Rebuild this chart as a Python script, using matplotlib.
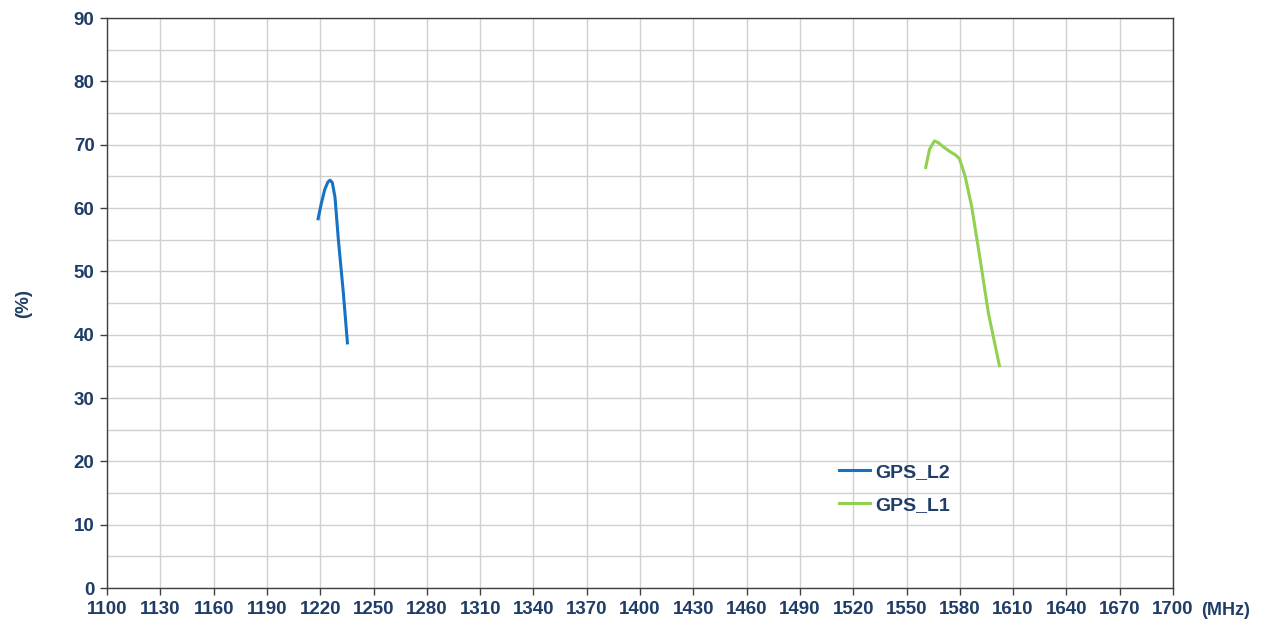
import numpy as np
import matplotlib
matplotlib.use("Agg")
import matplotlib.pyplot as plt
from matplotlib.ticker import MultipleLocator, FixedLocator

plt.rcParams['font.family'] = ['Liberation Sans', 'DejaVu Sans']

# efficiency data
l2_freq = [1218.8, 1220.5, 1222.5, 1224.3, 1225.5, 1226.8, 1228.3, 1230.2, 1233.0, 1235.3]
l2_eff = [58.3, 60.6, 62.9, 64.1, 64.4, 64.0, 61.7, 55.0, 46.6, 38.7]
l1_freq = [1560.8, 1563.0, 1565.7, 1568.0, 1571.0, 1574.5, 1577.5, 1579.8, 1583.0,
           1586.7, 1591.5, 1596.1, 1602.3]
l1_eff = [66.4, 69.3, 70.6, 70.3, 69.6, 68.9, 68.4, 67.8, 65.0, 60.2, 51.8, 43.4, 35.1]
x_ticks = list(range(1100, 1701, 30))

txt_col = '#1f3d66'

fig = plt.figure(figsize=(12.67, 6.26), dpi=100)
ax = fig.add_axes([0.0845, 0.0607, 0.8413, 0.9105])

ax.plot(l2_freq, l2_eff, color='#1672c4', linewidth=2.2, label='GPS_L2')
ax.plot(l1_freq, l1_eff, color='#92d050', linewidth=2.2, label='GPS_L1')

ax.set_xlim(1100, 1700)
ax.set_ylim(0, 90)
ax.xaxis.set_major_locator(FixedLocator(x_ticks))
ax.yaxis.set_major_locator(MultipleLocator(10))
ax.yaxis.set_minor_locator(MultipleLocator(5))
ax.grid(True, which='both', axis='y', color='#d0d0d0', linewidth=1)
ax.grid(True, which='major', axis='x', color='#d0d0d0', linewidth=1)
ax.set_axisbelow(True)
ax.tick_params(axis='both', which='major', direction='out', length=5, width=1,
               color='#404040', labelsize=13.5, labelcolor=txt_col, pad=4)
ax.tick_params(axis='y', which='minor', length=0)
for lab in ax.get_xticklabels() + ax.get_yticklabels():
    lab.set_fontweight('bold')
for sp in ax.spines.values():
    sp.set_color('#404040')
    sp.set_linewidth(1)

ax.set_ylabel('(%)', fontsize=13.5, fontweight='bold', color=txt_col, labelpad=30)
ax.text(1.026, -0.039, '(MHz)', transform=ax.transAxes, ha='left', va='center',
        fontsize=13, fontweight='bold', color=txt_col)

leg = ax.legend(loc='upper left', bbox_to_anchor=(0.67, 0.25), frameon=False,
                handlelength=1.6, handletextpad=0.3, labelspacing=0.8,
                prop={'size': 14, 'weight': 'bold'})
for t in leg.get_texts():
    t.set_color(txt_col)

fig.savefig('out.png', dpi=100)
